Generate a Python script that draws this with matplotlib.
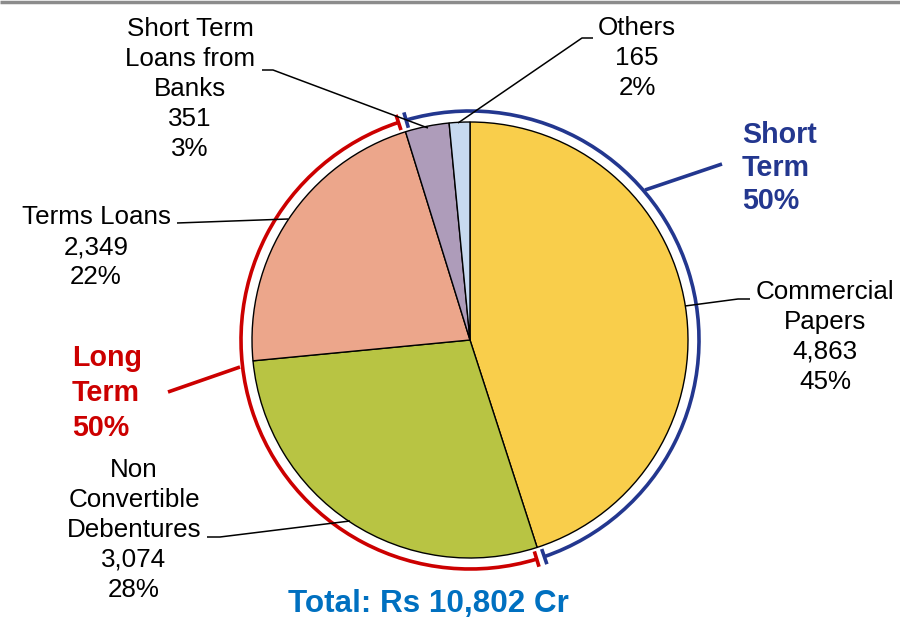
import numpy as np
import matplotlib
matplotlib.use("Agg")
import matplotlib.pyplot as plt
from matplotlib.patches import Arc

# ---------------- data ----------------
categories = ["Commercial\nPapers", "Non\nConvertible\nDebentures", "Terms Loans",
              "Short Term\nLoans from\nBanks", "Others"]
values = [4863, 3074, 2349, 351, 165]
value_labels = ["4,863", "3,074", "2,349", "351", "165"]
pct_labels = ["45%", "28%", "22%", "3%", "2%"]
colors = ["#F9CE4B", "#B8C443", "#ECA68B", "#AE9CBA", "#C7D9EF"]
group_names = ["Short\nTerm", "Long\nTerm"]
group_pcts = ["50%", "50%"]
total_label = "Total: Rs 10,802 Cr"

# ---------------- layout ----------------
W, H = 900, 619
fig = plt.figure(figsize=(W / 100, H / 100), dpi=100)
ax = fig.add_axes([0, 0, 1, 1])

def Y(y):
    return H - y

cx, cy, R = 470, Y(340), 218
FONT = "Liberation Sans"

ax.pie(values, colors=colors, startangle=90, counterclock=False,
       center=(cx, cy), radius=R,
       wedgeprops=dict(edgecolor="black", linewidth=1.0))
ax.set_xlim(0, W)
ax.set_ylim(0, H)
ax.set_aspect("auto")
ax.axis("off")

# top grey border
ax.plot([0, W], [Y(1.5), Y(1.5)], color="#8C8C8C", lw=2.5, solid_capstyle="butt")

# group arcs
frac = np.cumsum([0] + values) / sum(values)
b_cp = frac[1] * 360          # end of commercial papers (clockwise from top)
b_stl = frac[3] * 360         # start of short term loans
Ra = 229
gap = 1.0
navy = "#23378F"
red = "#CC0000"

def math_ang(theta):
    return 90 - theta

# short term: from b_stl (-360) to b_cp clockwise
st1 = math_ang(b_cp - gap)
st2 = math_ang(b_stl - 360 + gap)
ax.add_patch(Arc((cx, cy), 2 * Ra, 2 * Ra, theta1=st1, theta2=st2, color=navy, lw=2.6))
# long term: from b_cp to b_stl
lt1 = math_ang(b_stl - gap)
lt2 = math_ang(b_cp + gap)
ax.add_patch(Arc((cx, cy), 2 * Ra, 2 * Ra, theta1=lt1, theta2=lt2, color=red, lw=2.6))

def tick(theta_math, col):
    t = np.radians(theta_math)
    r1, r2 = Ra - 8, Ra + 8
    ax.plot([cx + r1 * np.cos(t), cx + r2 * np.cos(t)],
            [cy + r1 * np.sin(t), cy + r2 * np.sin(t)], color=col, lw=2.6,
            solid_capstyle="butt")

tick(st1, navy); tick(st2, navy)
tick(lt1, red); tick(lt2, red)

# leader lines (pixel coordinates of reference)
def leader(pts, col="black", lw=1.1):
    xs = [p[0] for p in pts]
    ys = [Y(p[1]) for p in pts]
    ax.plot(xs, ys, color=col, lw=lw, solid_capstyle="butt")

leader([(262, 70), (273, 70), (428, 128)])          # short term loans
leader([(593, 38), (582, 38), (458, 123)])          # others
leader([(177, 223), (288, 219)])                    # terms loans
leader([(750, 299), (738, 299), (685, 306)])        # commercial papers
leader([(207, 537), (220, 537), (350, 521)])        # NCD
leader([(645, 190), (722, 164)], col=navy, lw=2.6)   # short term group
leader([(168, 392), (240, 367)], col=red, lw=2.6)    # long term group

# labels drawn line by line
def label(lines, x, y0, step, size, ha="center", color="black", weight="normal"):
    for i, s in enumerate(lines):
        ax.text(x, Y(y0 + i * step), s, ha=ha, va="baseline", fontsize=size,
                color=color, fontweight=weight, family=FONT)

fs = 18.7
label(categories[0].split("\n") + [value_labels[0], pct_labels[0]], 825, 299, 30, fs)
label(categories[1].split("\n") + [value_labels[1], pct_labels[1]], 134, 477, 30, fs)
label(categories[2].split("\n") + [value_labels[2], pct_labels[2]], 96, 224, 30, fs)
label(categories[3].split("\n") + [value_labels[3], pct_labels[3]], 190, 36, 30, fs)
label(categories[4].split("\n") + [value_labels[4], pct_labels[4]], 637, 35, 30, fs)

bfs = 20.6
label(group_names[0].split("\n") + [group_pcts[0]], 742, 143, 33, bfs, ha="left",
      color=navy, weight="bold")
label(group_names[1].split("\n") + [group_pcts[1]], 72, 366, 35, bfs, ha="left",
      color=red, weight="bold")

ax.text(428, Y(612), total_label, ha="center", va="baseline", fontsize=22.6,
        color="#0070C0", fontweight="bold", family=FONT)

fig.savefig("out.png", dpi=100)
